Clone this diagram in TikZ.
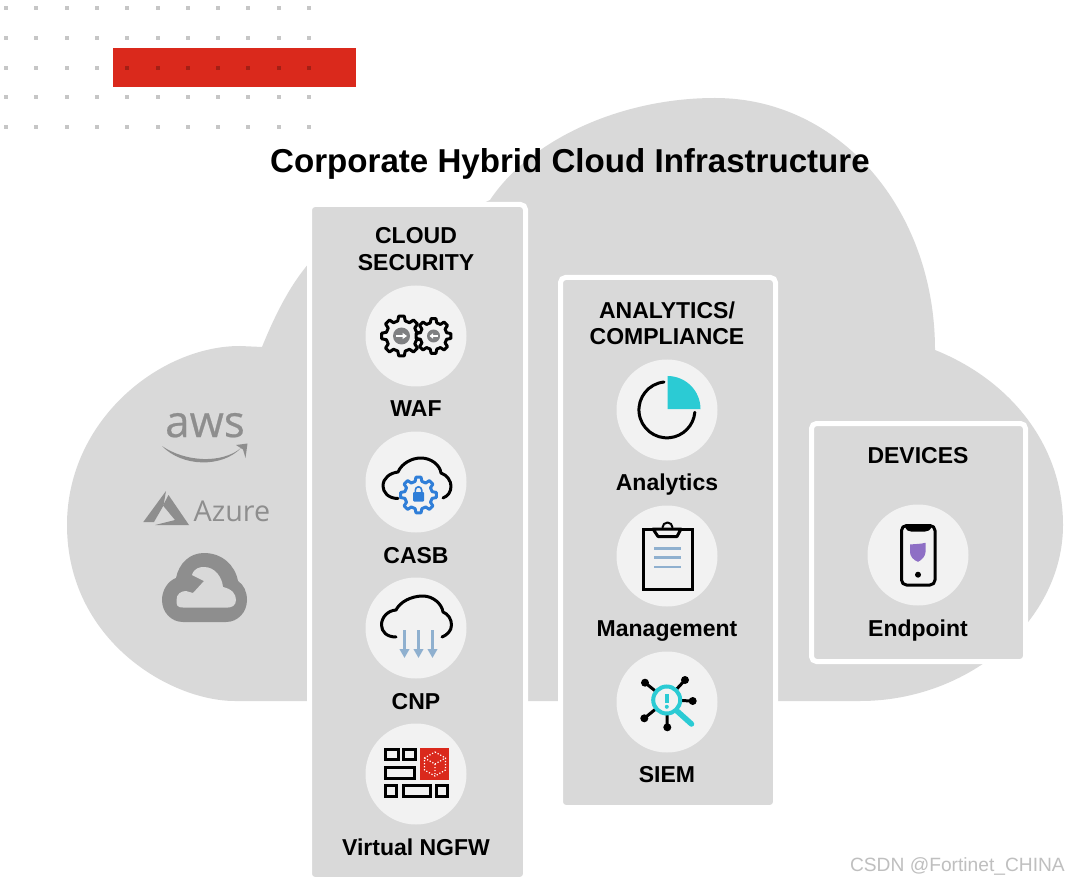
\documentclass[tikz,border=0pt]{standalone}
\usepackage{fontspec}
\setmainfont{Liberation Sans}
\newfontfamily\logofont{Open Sans}
\definecolor{cloudgray}{HTML}{D9D9D9}
\definecolor{disc}{HTML}{F2F2F2}
\definecolor{logogray}{HTML}{8E8E8E}
\definecolor{fred}{HTML}{DA291C}
\definecolor{dotgray}{HTML}{C6C6C6}
\definecolor{teal}{HTML}{2BCBD4}
\definecolor{steel}{HTML}{8FB0CF}
\definecolor{iconblue}{HTML}{2F7ED8}
\definecolor{purp}{HTML}{8E6FC5}
\definecolor{gearcore}{HTML}{7F8082}
\usetikzlibrary{calc,arrows.meta}
\tikzset{
  panel/.style={draw=white,line width=5pt,fill=cloudgray,rounded corners=5pt,inner sep=0pt},
  disc node/.style={circle,fill=disc,minimum size=101pt,inner sep=0pt},
  lab/.style={font=\fontsize{23}{27}\selectfont\bfseries,anchor=base,align=center,inner sep=0pt,text=black},
  ico/.style={draw=black,line width=3pt,line cap=round,line join=round},
  brick/.style={draw=black,line width=3pt,line join=miter},
}
% eight-toothed gear: cx, cy, outer radius, inner radius, half-width of tooth tip, half-width of tooth base
\newcommand{\geartrace}[6]{%
  ($(#1,#2)+(-#6:#4)$)
  \foreach \k in {0,...,7}{%
    \pgfextra{\pgfmathsetmacro{\ga}{\k*45}}%
    -- ($(#1,#2)+(\ga-#6:#4)$) -- ($(#1,#2)+(\ga-#5:#3)$) -- ($(#1,#2)+(\ga+#5:#3)$) -- ($(#1,#2)+(\ga+#6:#4)$)
  } -- cycle}
\begin{document}
\begin{tikzpicture}[x=1pt,y=-1pt]
\useasboundingbox (0,0) rectangle (1068,882);
\fill[white] (0,0) rectangle (1068,882);
% red bar
\fill[fred] (113,48) rectangle (356,87);
% dot grid
\foreach \r/\yy in {0/8,1/38,2/68,3/97,4/127}{
  \foreach \c in {0,...,10}{
    \pgfmathsetmacro{\xx}{6+30.3*\c}
    \ifnum\r=2 \ifnum\c>3
      \fill[fred!75!black] (\xx-2,\yy-2) rectangle (\xx+2,\yy+2);
    \else
      \fill[dotgray] (\xx-2,\yy-2) rectangle (\xx+2,\yy+2);
    \fi\else
      \fill[dotgray] (\xx-2,\yy-2) rectangle (\xx+2,\yy+2);
    \fi
  }
}
% cloud
\fill[cloudgray] (235,701)
  .. controls (170,701) and (67,640) .. (67,525)
  .. controls (67,420) and (160,346) .. (240,346)
  -- (262,347)
  .. controls (275,315) and (290,285) .. (310,262)
  .. controls (350,225) and (440,225) .. (490,200)
  .. controls (530,140) and (620,98) .. (715,98)
  .. controls (840,98) and (935,210) .. (935,350)
  .. controls (1010,380) and (1063,445) .. (1063,525)
  .. controls (1063,620) and (970,701) .. (860,701)
  -- cycle;
% title
\node[font=\fontsize{33.1}{36}\selectfont\bfseries,anchor=base,inner sep=0pt] (title) at (570,173) {Corporate Hybrid Cloud Infrastructure};
% panels
\node[panel,minimum width=216pt,minimum height=675pt] (p1) at (417.5,542) {};
\node[panel,minimum width=215pt,minimum height=530pt] (p2) at (668,542.5) {};
\node[panel,minimum width=214pt,minimum height=238pt] (p3) at (918.5,542.5) {};
% discs
\foreach \n/\x/\y in {d1/416/336,d2/416/482,d3/416/628,d4/416/774,d5/667/410,d6/667/556,d7/667/702,d8/918/555}
  \node[disc node] (\n) at (\x,\y) {};
% labels
\node[lab] (l1) at (416,271) {CLOUD\\SECURITY};
\node[lab] (l2) at (416,417) {WAF};
\node[lab] (l3) at (416,563) {CASB};
\node[lab] (l4) at (416,709) {CNP};
\node[lab] (l5) at (416,855) {Virtual NGFW};
\node[lab] (l6) at (667,345) {ANALYTICS/\\COMPLIANCE};
\node[lab] (l7) at (667,490) {Analytics};
\node[lab] (l8) at (667,636) {Management};
\node[lab] (l9) at (667,782) {SIEM};
\node[lab] (l10) at (918,463) {DEVICES};
\node[lab] (l11) at (918,636) {Endpoint};
% AWS logo
\node[font=\logofont\addfontfeature{FakeBold=0.5}\fontsize{44}{44}\selectfont,text=logogray,anchor=base,inner sep=0pt] (aws) at (205,437) {aws};
\fill[logogray] (162,446) .. controls (185,462) and (222,464) .. (241,448)
  .. controls (222,468) and (182,467) .. (162,446) -- cycle;
\fill[logogray] (236,445) -- (247.5,443.5) -- (245.5,458) -- (243,449.5) -- cycle;
% Azure logo
\fill[logogray] (166,491) -- (143.3,522) -- (154,522) -- (163.5,505.5) -- cycle;
\fill[logogray] (168.5,495) -- (189,525) -- (155,525) -- (175,520) -- (163,505.5) -- cycle;
\node[font=\logofont\fontsize{28.7}{30}\selectfont,text=logogray,anchor=base west,inner sep=0pt] (azure) at (193.5,521) {Azure};
% Google cloud logo
\fill[logogray] (204,553) .. controls (222,553) and (235,565) .. (238,581)
  .. controls (244,585) and (247,592) .. (247,600)
  .. controls (247,612) and (238,622) .. (226,622)
  -- (183,622) .. controls (171,622) and (162,612) .. (162,600)
  .. controls (162,590) and (168,581) .. (176,578)
  .. controls (179,563) and (190,553) .. (204,553) -- cycle;
\fill[cloudgray] (192,575) .. controls (194,568) and (200,567) .. (204,567)
  .. controls (215,567) and (222,577) .. (223,587)
  .. controls (232,589) and (236,594) .. (236,600)
  .. controls (236,606) and (231,607.5) .. (228,607.5)
  -- (183,607.5) .. controls (176,607.5) and (176.5,604) .. (176.5,600)
  .. controls (176.5,594) and (181,591) .. (186,591)
  -- (193,593) -- (204,581) -- cycle;
% WAF gears
\draw[ico,fill=disc] \geartrace{401.5}{336}{20}{15.5}{8}{14};
\fill[gearcore] (401.5,336) circle (8.5);
\fill[white] (396,335.2) rectangle (402.5,336.8);
\fill[white] (402.5,332.8) -- (407,336) -- (402.5,339.2) -- cycle;
\draw[ico,fill=disc] \geartrace{433.5}{336}{17.5}{13.5}{8}{14};
\fill[gearcore] (433.5,336) circle (6.5);
\fill[white] (433,335.3) rectangle (438,336.7);
\fill[white] (433,333.3) -- (429.5,336) -- (433,338.7) -- cycle;
% CASB
\draw[ico] (398,498.5) .. controls (388,498.5) and (383,492) .. (383,486)
  .. controls (383,478) and (390,473) .. (398,472)
  .. controls (402,463) and (412,458) .. (421,458)
  .. controls (431,458) and (440,465) .. (441,473)
  .. controls (447,475) and (451,481) .. (451,486)
  .. controls (451,492) and (448,496) .. (443,498);
\draw[iconblue,line width=3pt,line join=round] \geartrace{418.5}{495}{18}{14}{8}{14};
\fill[iconblue,rounded corners=1pt] (413,492) rectangle (424,501.5);
\draw[iconblue,line width=1.6pt] (415.3,492) -- (415.3,490) arc[start angle=180,end angle=360,radius=3.2] -- (421.7,492);
% CNP
\draw[ico] (396,637) .. controls (387,637) and (381.5,632) .. (381.5,625)
  .. controls (381.5,617) and (388,610.5) .. (396,610)
  .. controls (400,602) and (411,596) .. (423,596)
  .. controls (433,596) and (442,604) .. (443,612)
  .. controls (448,614) and (451.5,619) .. (451.5,625)
  .. controls (451.5,631) and (447,635) .. (442,637);
\foreach \ax in {404.5,418.5,432.5}
  \draw[steel,line width=2.6pt,-{Stealth[length=9pt,width=9.5pt,inset=0pt]}] (\ax,630) -- (\ax,658);
% Virtual NGFW
\fill[fred] (420,747.5) rectangle (449,780);
\draw[brick] (385.5,749.2) rectangle (398,759.7);
\draw[brick] (403,749.2) rectangle (415,759.7);
\draw[brick] (385.5,767.5) rectangle (414,778.7);
\draw[brick] (385.5,785.5) rectangle (396,796.3);
\draw[brick] (403,785.5) rectangle (430,796.3);
\draw[brick] (436,785.5) rectangle (447.5,796.3);
\draw[white,line width=1.2pt,dash pattern=on 1.2pt off 1.8pt] (435,752) -- (445.5,758) -- (445.5,770) -- (435,776) -- (424.5,770) -- (424.5,758) -- cycle;
\draw[white,line width=1.2pt,dash pattern=on 1.2pt off 1.8pt] (424.5,758) -- (435,764) -- (445.5,758) (435,764) -- (435,776);
% Analytics
\draw[ico] (664,382) arc[start angle=264,end angle=5,radius=28];
\fill[teal] (667.5,409) -- (667.5,376) arc[start angle=-90,end angle=0,radius=33] -- cycle;
% Management
\draw[ico,line join=miter,fill=disc] (643,529) rectangle (692,589);
\draw[ico,fill=disc] (653,529) -- (681,529) -- (677,536.5) -- (658,536.5) -- cycle;
\draw[ico,line width=2pt] (662.5,527.5) arc[start angle=180,end angle=360,radius=5];
\foreach \ly in {548.3,557.7,567}
  \draw[steel,line width=2.8pt] (654,\ly) -- (681,\ly);
% SIEM
\coordinate (lens) at (666.7,700);
\foreach \sx/\sy in {645/682.7,685/680,692.7/701,667.3/727.3,644.3/718.3}{
  \draw[black,line width=3pt] (lens) -- (\sx,\sy);
  \fill[black] (\sx,\sy) circle (4);
}
\draw[teal,line width=5.5pt,line cap=round] (677,711) -- (691.5,724);
\draw[teal,line width=4pt,fill=disc] (lens) circle (13.5);
\fill[teal] (665,694) rectangle (668.6,703);
\fill[teal] (666.8,706.8) circle (2);
% Endpoint
\draw[ico,rounded corners=5pt] (901.5,525.5) rectangle (935,585);
\fill[black] (904,525) .. controls (907,531) and (908,531.5) .. (911,531.5) -- (925,531.5) .. controls (928,531.5) and (930,531) .. (932.5,525) -- cycle;
\fill[purp] (910,544.5) .. controls (915,544) and (921,544) .. (925.5,542.8) -- (925.5,552) .. controls (925.5,556) and (922,560) .. (918,561.8) .. controls (913,560) and (910,556) .. (910,552) -- cycle;
\fill[black] (918,574.7) circle (3);
% watermark
\node[font=\fontsize{19.2}{20}\selectfont,text=black!25,anchor=base east,inner sep=0pt] (wm) at (1065,871) {CSDN @Fortinet\_CHINA};
\end{tikzpicture}
\end{document}
